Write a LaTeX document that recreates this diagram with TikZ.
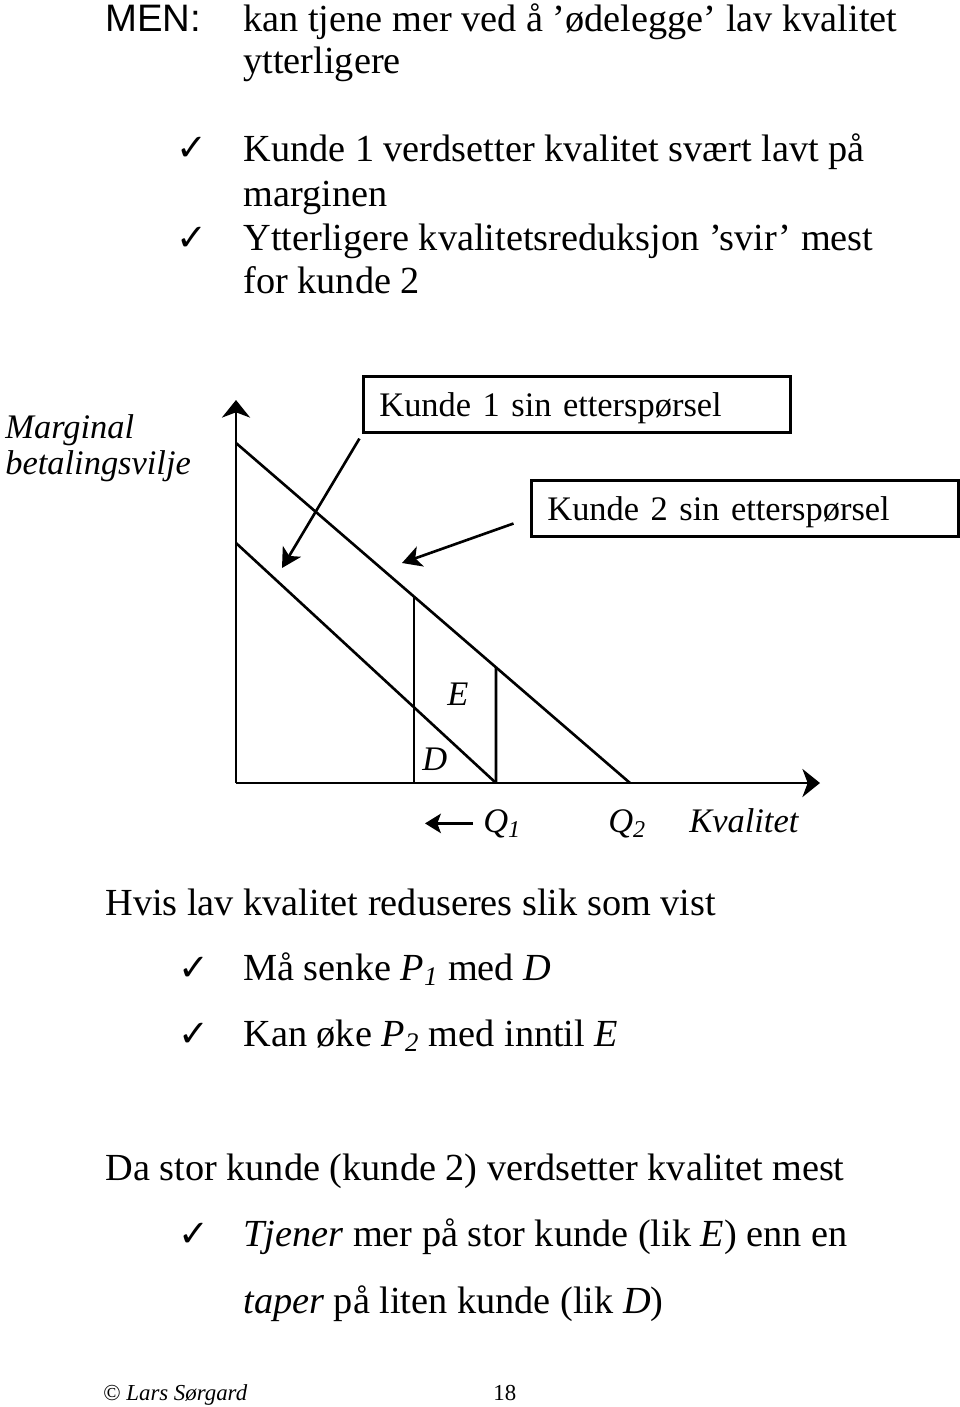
\documentclass[tikz,border=0pt]{standalone}
\usepackage{fontspec}
\setmainfont{Liberation Serif}
\newfontfamily\arialfont{Liberation Sans}
\newfontfamily\symbfont{DejaVu Sans}
\usepackage{tikz}
\usetikzlibrary{arrows.meta}
\usetikzlibrary{calc}

\begin{document}
\begin{tikzpicture}[x=0.02cm,y=-0.02cm,
	txt/.style={anchor=base west,inner sep=0pt,font=\fontsize{21.8}{26}\selectfont},
	lab/.style={anchor=base west,inner sep=0pt,font=\fontsize{19.6}{23}\selectfont\itshape},
	chk/.style={anchor=base west,inner sep=0pt,font=\symbfont\fontsize{21}{24}\selectfont},
	kasse/.style={draw,line width=1.6pt,anchor=north west,inner xsep=0.32cm,inner ysep=0pt,
		text width=7.9cm,minimum height=1.13cm,text depth=0pt,align=left,font=\fontsize{19.6}{23}\selectfont},
	akse/.style={line width=1.5pt,-{Stealth[length=10pt,width=16pt,inset=3pt]}},
	linje/.style={line width=1.5pt},
	pil/.style={line width=1.5pt,-{Stealth[length=11pt,width=12pt,inset=3pt]}}]
\useasboundingbox (0,0) rectangle (960,1407);

% tekst over figuren
\node[txt,font=\arialfont\fontsize{21.8}{26}\selectfont] (men) at (105,31) {MEN:};
\node[txt] (t1) at (243,31) {kan tjene mer ved å ’ødelegge’ lav kvalitet};
\node[txt] (t2) at (243,73) {ytterligere};
\node[chk] (c1) at (176,160) {✓};
\node[txt] (t3) at (243,161) {Kunde 1 verdsetter kvalitet svært lavt på};
\node[txt] (t4) at (243,206) {marginen};
\node[chk] (c2) at (176,250) {✓};
\node[txt] (t5) at (243,250) {Ytterligere kvalitetsreduksjon ’svir’ mest};
\node[txt] (t6) at (243,293) {for kunde 2};

% figuren
\coordinate (O) at (236,783);
\coordinate (Ytop) at (236,400);
\coordinate (Xtop) at (820,783);
\coordinate (A1) at (236,443);
\coordinate (B1) at (630,783);
\coordinate (A2) at (236,543);
\coordinate (B2) at (496,783);
\coordinate (E1) at ($(A1)!0.452!(B1)$);
\coordinate (E2) at ($(A1)!0.66!(B1)$);
\draw[akse] (O)--(Ytop);
\draw[akse] (O)--(Xtop);
\draw[linje] (A1)--(B1);
\draw[linje] (A2)--(B2);
\draw[linje] (E1)--(E1 |- O);
\draw[linje] (E2)--(B2);
\node[lab] (E) at (447,705) {E};
\node[lab] (D) at (422,770) {D};
\node[lab] (q1) at (483,832) {Q\textsubscript{1}};
\node[lab] (q2) at (608,832) {Q\textsubscript{2}};
\node[lab] (kval) at (689,832) {Kvalitet};
\coordinate (venstre) at (425,820);
\draw[line width=1.5pt,-{Stealth[length=9pt,width=11pt,inset=2pt]},shorten <=0.2cm] (q1.west)--(q1.west -| venstre);

\node[lab] (marg) at (5,438) {Marginal};
\node[lab] (betal) at (5,474) {betalingsvilje};
\node[kasse] (k1) at (362,375) {Kunde 1 sin etterspørsel};
\node[kasse] (k2) at (530,479) {Kunde 2 sin etterspørsel};
\coordinate (p1) at (282,568);
\coordinate (p2) at (402,563);
\draw[pil,shorten <=0.1cm] (k1.south west)--(p1);
\draw[pil,shorten <=0.35cm] ($(k2.west)+(0,9)$)--(p2);

% tekst under figuren
\node[txt] (t7) at (105,915) {Hvis lav kvalitet reduseres slik som vist};
\node[chk] (c3) at (178,980) {✓};
\node[txt] (t8) at (243,980) {Må senke \textit{P}\textsubscript{\itshape 1} med \textit{D}};
\node[chk] (c4) at (178,1046) {✓};
\node[txt] (t9) at (243,1046) {Kan øke \textit{P}\textsubscript{\itshape 2} med inntil \textit{E}};
\node[txt] (t10) at (105,1180) {Da stor kunde (kunde 2) verdsetter kvalitet mest};
\node[chk] (c5) at (178,1246) {✓};
\node[txt] (t11) at (243,1246) {\textit{Tjener} mer på stor kunde (lik \textit{E}) enn en};
\node[txt] (t12) at (243,1313) {\textit{taper} på liten kunde (lik \textit{D})};

% bunntekst
\node[txt,font=\fontsize{13}{15}\selectfont] (fot) at (103,1400) {© \textit{Lars Sørgard}};
\node[txt,font=\fontsize{13}{15}\selectfont] (side) at (493,1400) {18};
\end{tikzpicture}
\end{document}
